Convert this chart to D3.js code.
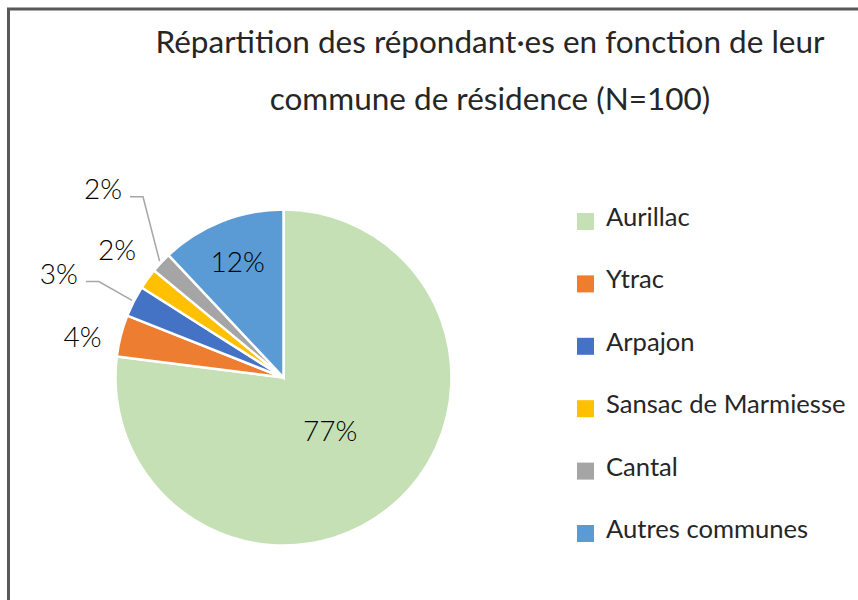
<!DOCTYPE html>
<html>
<head>
<meta charset="utf-8">
<script src="https://cdn.jsdelivr.net/npm/d3@7"></script>
<style>
  body { margin: 0; background: #fff; }
  text { font-family: Lato, "Open Sans", sans-serif; fill: #262626; }
</style>
</head>
<body>
<script>
// data
var communes = ["Aurillac", "Ytrac", "Arpajon", "Sansac de Marmiesse", "Cantal", "Autres communes"];
var percents = [77, 4, 3, 2, 2, 12];
var colours = ["#C5E0B4", "#ED7D31", "#4472C4", "#FFC000", "#A5A5A5", "#5B9BD5"];
var titleLines = ["Répartition des répondant·es en fonction de leur", "commune de résidence (N=100)"];

// label placement: inside labels sit on a radius fraction, outside ones get nudged like Excel did
var labelPlace = [
  { k: 0.42, dx: 0, dy: 0 },
  { k: 1.18, dx: -9, dy: 9 },
  { k: 1.18, dx: -48, dy: -14, leader: true },
  { k: 1.18, dx: -6, dy: -11 },
  { k: 1.18, dx: -36, dy: -53, leader: true },
  { k: 0.74, dx: 0, dy: 0 }
];

var width = 858, height = 600,
    cx = 283.5, cy = 377.5, r = 168;

var svg = d3.select("body").append("svg")
    .attr("width", width)
    .attr("height", height);

// chart frame (runs off the right and bottom of the shot)
svg.append("rect")
    .attr("x", 8.5).attr("y", 9)
    .attr("width", 900).attr("height", 700)
    .attr("fill", "none")
    .attr("stroke", "#595959")
    .attr("stroke-width", 3);

svg.selectAll(".title")
    .data(titleLines)
    .enter().append("text")
    .attr("class", "title")
    .attr("x", 490)
    .attr("y", function (d, i) { return 53 + i * 57; })
    .attr("text-anchor", "middle")
    .style("font-size", "31.5px")
    .text(function (d) { return d; });

var pie = d3.pie().sort(null).value(function (d) { return d; });
var arcs = pie(percents);

var arc = d3.arc().innerRadius(0).outerRadius(r);

var g = svg.append("g").attr("transform", "translate(" + cx + "," + cy + ")");

g.selectAll("path")
    .data(arcs)
    .enter().append("path")
    .attr("d", arc)
    .attr("fill", function (d, i) { return colours[i]; })
    .attr("stroke", "#fff")
    .attr("stroke-width", 2.5)
    .attr("stroke-linejoin", "miter");

function polar(a, rad) {
  return [Math.sin(a) * rad, -Math.cos(a) * rad];
}

var labels = arcs.map(function (d, i) {
  var p = polar((d.startAngle + d.endAngle) / 2, r * labelPlace[i].k);
  return { x: p[0] + labelPlace[i].dx, y: p[1] + labelPlace[i].dy, d: d, i: i };
});

g.selectAll(".pct")
    .data(labels)
    .enter().append("text")
    .attr("class", "pct")
    .attr("x", function (d) { return d.x; })
    .attr("y", function (d) { return d.y; })
    .attr("dy", "0.36em")
    .attr("text-anchor", "middle")
    .style("font-size", "28px")
    .style("font-weight", 300)
    .style("fill", "#000")
    .text(function (d) { return percents[d.i] + "%"; });

// leader lines for the two labels pushed away from their slice
g.selectAll(".leader")
    .data(labels.filter(function (d) { return labelPlace[d.i].leader; }))
    .enter().append("polyline")
    .attr("class", "leader")
    .attr("fill", "none")
    .attr("stroke", "#a6a6a6")
    .attr("stroke-width", 1.5)
    .attr("points", function (d) {
      var x0 = d.x + 27, y0 = d.y + 8,
          end = polar((d.d.startAngle + d.d.endAngle) / 2, r + 2);
      return [[x0, y0], [x0 + 13, y0], end].map(function (p) { return p.join(","); }).join(" ");
    });

var legend = svg.selectAll(".legend")
    .data(communes)
    .enter().append("g")
    .attr("class", "legend")
    .attr("transform", function (d, i) { return "translate(577," + (226 + i * 62.4) + ")"; });

legend.append("rect")
    .attr("x", 0).attr("y", -13)
    .attr("width", 17).attr("height", 17)
    .attr("fill", function (d, i) { return colours[i]; });

legend.append("text")
    .attr("x", 29)
    .attr("y", 0)
    .style("font-size", "25.6px")
    .text(function (d) { return d; });
</script>
</body>
</html>
